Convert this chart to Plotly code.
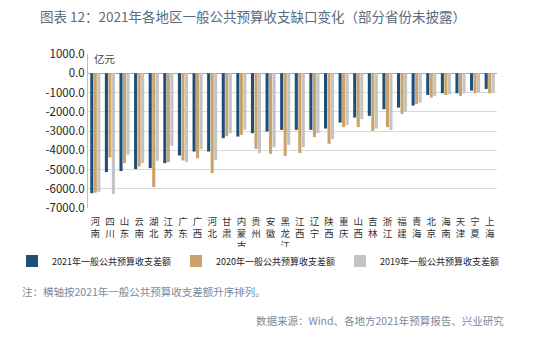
import plotly.graph_objects as go

provinces = ["河南", "四川", "山东", "云南", "湖北", "江苏", "广东", "广西", "河北", "甘肃",
             "内蒙古", "贵州", "安徽", "黑龙江", "江西", "辽宁", "陕西", "重庆", "山西", "吉林",
             "浙江", "福建", "青海", "北京", "海南", "天津", "宁夏", "上海"]
gap_2021 = [-6230, -5135, -5083, -4979, -4927, -4668, -4274, -4066, -4066, -3372,
            -3288, -3112, -3029, -2941, -2941, -2941, -2873, -2562, -2303, -2215,
            -1867, -1784, -1680, -1126, -1037, -1037, -902, -815]
gap_2020 = [-6200, -4377, -4668, -4841, -5913, -4617, -4530, -4412, -5187, -3252,
            -3200, -3926, -4186, -4290, -4149, -3320, -3667, -2801, -2801, -2993,
            -2801, -2111, -1592, -1265, -1126, -1177, -1037, -1037]
gap_2019 = [-6150, -6276, -4237, -4668, -4549, -3771, -4617, -3944, -4497, -3112,
            -2941, -4149, -3840, -3719, -3840, -3112, -3423, -2697, -2386, -2873,
            -2941, -2001, -1523, -1178, -1093, -1037, -990, -990]
series_names = ["2021年一般公共预算收支差额", "2020年一般公共预算收支差额", "2019年一般公共预算收支差额"]
y_ticks = [1000, 0, -1000, -2000, -3000, -4000, -5000, -6000, -7000]

colors = ["#1f4e79", "#c9a46a", "#c3c3c3"]
font_cn = "Noto Sans CJK SC"

tick_text = ["<br>".join(list(p)) for p in provinces]

# plot area in pixels
L, R, T, B = 88, 497, 54, 208
W, H = 554, 338


def py(pix):
    return (B - pix) / (B - T)


def px(pix):
    return (pix - L) / (R - L)


fig = go.Figure()
for name, vals, c in zip(series_names, [gap_2021, gap_2020, gap_2019], colors):
    fig.add_trace(go.Bar(x=provinces, y=vals, name=name, marker_color=c,
                         marker_line_width=0))

fig.update_layout(
    width=W, height=H,
    margin=dict(l=L, r=W - R, t=T, b=H - B, autoexpand=False),
    paper_bgcolor="white", plot_bgcolor="white",
    barmode="group", bargap=0.28, bargroupgap=0.12,
    font=dict(family=font_cn, color="#333333", size=10),
    showlegend=True,
    legend=dict(orientation="h", xref="paper", yref="paper",
                x=px(12), y=py(261), yanchor="middle", xanchor="left",
                font=dict(size=9, color="#222222"),
                itemwidth=30, tracegroupgap=0),
    title=dict(text="图表 12：2021年各地区一般公共预算收支缺口变化（部分省份未披露）",
               x=40 / W, xanchor="left", xref="container", y=1 - 17 / H, yanchor="middle",
               yref="container",
               font=dict(size=13.5, color="#5b6b80", family=font_cn)),
)

fig.update_xaxes(tickmode="array", tickvals=provinces, ticktext=tick_text,
                 tickfont=dict(size=9.5, color="#333333"), showgrid=False,
                 showline=False, ticks="", tickangle=0, automargin=False,
                 ticklabelstandoff=6)
fig.update_yaxes(range=[-7000, 1000], tickvals=y_ticks,
                 ticktext=[f"{v:.1f}" for v in y_ticks],
                 tickfont=dict(size=11.5, color="#222222"),
                 showgrid=True, gridcolor="#d9d9d9", gridwidth=1,
                 zeroline=True, zerolinecolor="#a6a6a6", zerolinewidth=1,
                 showline=True, linecolor="#bfbfbf", linewidth=1, ticks="", ticklen=0,
                 automargin=False)

fig.add_annotation(text="亿元", xref="paper", yref="paper", x=px(92), y=py(59),
                   xanchor="left", yanchor="middle", showarrow=False,
                   font=dict(size=10.5, color="#444444"))
fig.add_annotation(text="注：横轴按2021年一般公共预算收支差额升序排列。", xref="paper", yref="paper",
                   x=px(20), y=py(291), xanchor="left", yanchor="middle", showarrow=False,
                   font=dict(size=10.5, color="#7a8a9c"))
fig.add_annotation(text="数据来源：Wind、各地方2021年预算报告、兴业研究", xref="paper", yref="paper",
                   x=px(506), y=py(320), xanchor="right", yanchor="middle", showarrow=False,
                   font=dict(size=10.5, color="#7a8a9c"))

fig.write_html("out.html")
